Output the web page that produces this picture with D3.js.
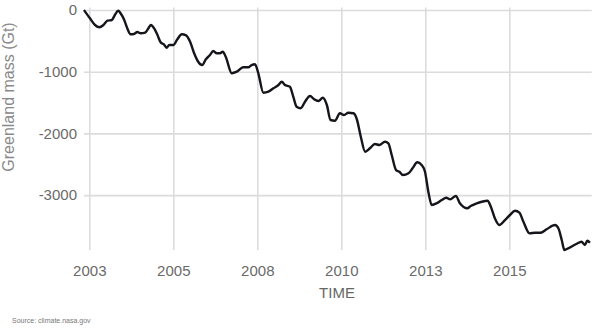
<!DOCTYPE html>
<html>
<head>
<meta charset="utf-8">
<script src="https://cdn.jsdelivr.net/npm/d3@7"></script>
<style>
  body { margin: 0; background: #fff; }
  #root { width: 600px; height: 335px; }
  text { font-family: 'Liberation Sans', Arial, Helvetica, sans-serif; }
</style>
</head>
<body id="body">
<div id="root" class="root"></div>
<script>
//-----------------------------------------------------------------------
// data (decimal year, Gt)
const years = [
  2002.34, 2002.52, 2002.67, 2002.80, 2002.92, 2003.04, 2003.17, 2003.26, 2003.36, 2003.43,
  2003.54, 2003.63, 2003.73, 2003.83, 2003.93, 2004.03, 2004.16, 2004.26, 2004.33, 2004.43,
  2004.52, 2004.63, 2004.72, 2004.80, 2004.88, 2005.00, 2005.12, 2005.25, 2005.38, 2005.50,
  2005.62, 2005.74, 2005.86, 2005.97, 2006.09, 2006.19, 2006.29, 2006.39, 2006.47, 2006.56,
  2006.74, 2006.89, 2007.08, 2007.23, 2007.33, 2007.43, 2007.53, 2007.68, 2007.83, 2007.98,
  2008.13, 2008.23, 2008.32, 2008.47, 2008.57, 2008.67, 2008.79, 2008.92, 2009.07, 2009.19,
  2009.32, 2009.45, 2009.57, 2009.68, 2009.81, 2009.96, 2010.08, 2010.21, 2010.36, 2010.46,
  2010.58, 2010.71, 2010.85, 2011.00, 2011.13, 2011.30, 2011.40, 2011.50, 2011.63, 2011.73,
  2011.83, 2012.00, 2012.12, 2012.26, 2012.39, 2012.49, 2012.59, 2012.69, 2012.84, 2012.99,
  2013.12, 2013.24, 2013.41, 2013.53, 2013.75, 2013.85, 2014.03, 2014.35, 2014.45, 2014.57,
  2014.70, 2014.87, 2015.02, 2015.17, 2015.30, 2015.42, 2015.60, 2015.77, 2015.93, 2016.11,
  2016.36, 2016.46, 2016.56, 2016.64, 2016.81, 2016.99, 2017.15, 2017.25, 2017.32, 2017.40
];
const mass = [
  0, -135, -243, -280, -243, -173, -162, -81, -11, -53,
  -162, -297, -394, -389, -357, -378, -368, -297, -243, -297,
  -394, -530, -556, -611, -567, -567, -475, -394, -410, -514,
  -702, -838, -892, -799, -729, -665, -702, -702, -676, -757,
  -1026, -1000, -929, -929, -892, -880, -1026, -1341, -1324, -1269,
  -1216, -1162, -1216, -1243, -1405, -1568, -1593, -1486, -1394, -1448,
  -1475, -1422, -1540, -1783, -1794, -1674, -1702, -1665, -1674, -1767,
  -2054, -2297, -2242, -2172, -2188, -2135, -2161, -2350, -2594, -2621,
  -2675, -2647, -2566, -2469, -2513, -2621, -2945, -3161, -3133, -3080,
  -3043, -3069, -3015, -3133, -3214, -3177, -3133, -3091, -3189, -3377,
  -3485, -3404, -3323, -3253, -3286, -3432, -3620, -3610, -3610, -3555,
  -3485, -3539, -3728, -3890, -3847, -3793, -3756, -3809, -3740, -3772
];

const tickYears = [2002.5, 2005, 2007.5, 2010, 2012.5, 2015];
const tickLabels = ['2003', '2005', '2008', '2010', '2013', '2015'];
const massTicks = [0, -1000, -2000, -3000];

//-----------------------------------------------------------------------
const rootWidth = 600;
const rootHeight = 335;
const padLeft = 84;
const padRight = 8.3;
const padTop = 10;
const plotBottom = 250.6;

const svg = d3
  .select('.root')
  .append('svg')
  .attr('width', rootWidth)
  .attr('height', rootHeight)
  .attr('viewBox', [0, 0, rootWidth, rootHeight]);

const xScale = d3
  .scaleLinear()
  .domain([2002.342, 2017.452])
  .range([padLeft, rootWidth - padRight]);

const yScale = d3
  .scaleLinear()
  .domain([-3900, 0])
  .range([plotBottom, padTop]);

// vertical grid (x axis)
const xAxis = d3
  .axisBottom(xScale)
  .tickValues(tickYears)
  .tickSize(-(plotBottom - 8))
  .tickPadding(15)
  .tickFormat((d, i) => tickLabels[i]);

const xAxisG = svg.append('g')
  .attr('id', 'x-axis')
  .attr('transform', `translate(0, ${plotBottom - 0.6})`)
  .call(xAxis);

xAxisG.select('.domain').remove();
xAxisG.selectAll('.tick line')
  .attr('stroke', '#dcdcdc')
  .attr('stroke-width', 1.6);
xAxisG.selectAll('.tick text')
  .attr('fill', '#6a6a6a')
  .style('font-size', '15px');

// horizontal grid (y axis)
const yAxis = d3
  .axisLeft(yScale)
  .tickValues(massTicks)
  .tickSize(-(rootWidth - padRight - padLeft))
  .tickPadding(7)
  .tickFormat(d3.format('d'));

const yAxisG = svg.append('g')
  .attr('id', 'y-axis')
  .attr('transform', `translate(${padLeft}, 0)`)
  .call(yAxis);

yAxisG.select('.domain').remove();
yAxisG.selectAll('.tick line')
  .attr('stroke', '#dcdcdc')
  .attr('stroke-width', 1.6);
yAxisG.selectAll('.tick text')
  .attr('fill', '#6a6a6a')
  .style('font-size', '15px')
  .text((d) => d3.format('d')(d).replace('−', '-'));

//-----------------------------------------------------------------------
const line = d3.line()
  .x((d, i) => xScale(years[i]))
  .y((d) => yScale(d))
  .curve(d3.curveMonotoneX);

svg.append('path')
  .datum(mass)
  .attr('fill', 'none')
  .attr('stroke', '#15151c')
  .attr('stroke-width', 2.4)
  .attr('stroke-linejoin', 'round')
  .attr('d', line);

//-----------------------------------------------------------------------
svg.append('text')
  .attr('x', 337)
  .attr('y', 298)
  .attr('fill', '#666')
  .style('font-size', '15px')
  .style('text-anchor', 'middle')
  .text('TIME');

svg.append('text')
  .attr('transform', 'translate(14, 97) rotate(-90)')
  .attr('fill', '#8a8a8a')
  .style('font-size', '16px')
  .style('text-anchor', 'middle')
  .text('Greenland mass (Gt)');

svg.append('text')
  .attr('x', 12)
  .attr('y', 323)
  .attr('fill', '#777')
  .style('font-size', '7px')
  .text('Source: climate.nasa.gov');
</script>
</body>
</html>
